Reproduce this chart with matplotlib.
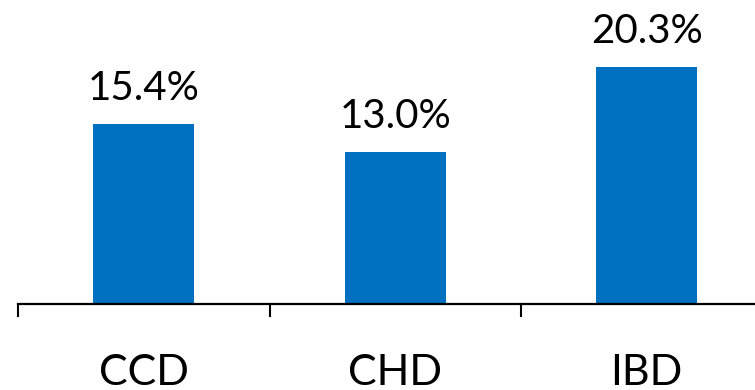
import matplotlib.pyplot as plt

categories = ["CCD", "CHD", "IBD"]
values = [15.4, 13.0, 20.3]
labels = ["15.4%", "13.0%", "20.3%"]

plt.rcParams["font.family"] = ["Lato", "DejaVu Sans"]

fig = plt.figure(figsize=(7.55, 3.9), dpi=100)
ax = fig.add_axes([18 / 755, 86 / 390, 754.5 / 755, 304 / 390])

x = range(len(categories))
bars = ax.bar(x, values, width=0.4, color="#0070C0")

for b, lab in zip(bars, labels):
    ax.annotate(lab, (b.get_x() + b.get_width() / 2, b.get_height()),
                xytext=(0, 12), textcoords="offset points",
                ha="center", va="bottom", fontsize=29)

ax.set_xlim(-0.5, 2.5)
ax.set_ylim(0, 26.0)

# boundary ticks between categories, labels sit in the middle
ax.set_xticks([-0.5, 0.5, 1.5, 2.5])
ax.set_xticklabels([])
ax.tick_params(axis="x", which="major", length=9, width=1.5, direction="out")
ax.set_xticks(list(x), minor=True)
ax.set_xticklabels(categories, minor=True, fontsize=31)
ax.tick_params(axis="x", which="minor", length=0, pad=36)

ax.set_yticks([])
for s in ["top", "right", "left"]:
    ax.spines[s].set_visible(False)
ax.spines["bottom"].set_linewidth(1.6)

fig.savefig("out.png", dpi=100)
